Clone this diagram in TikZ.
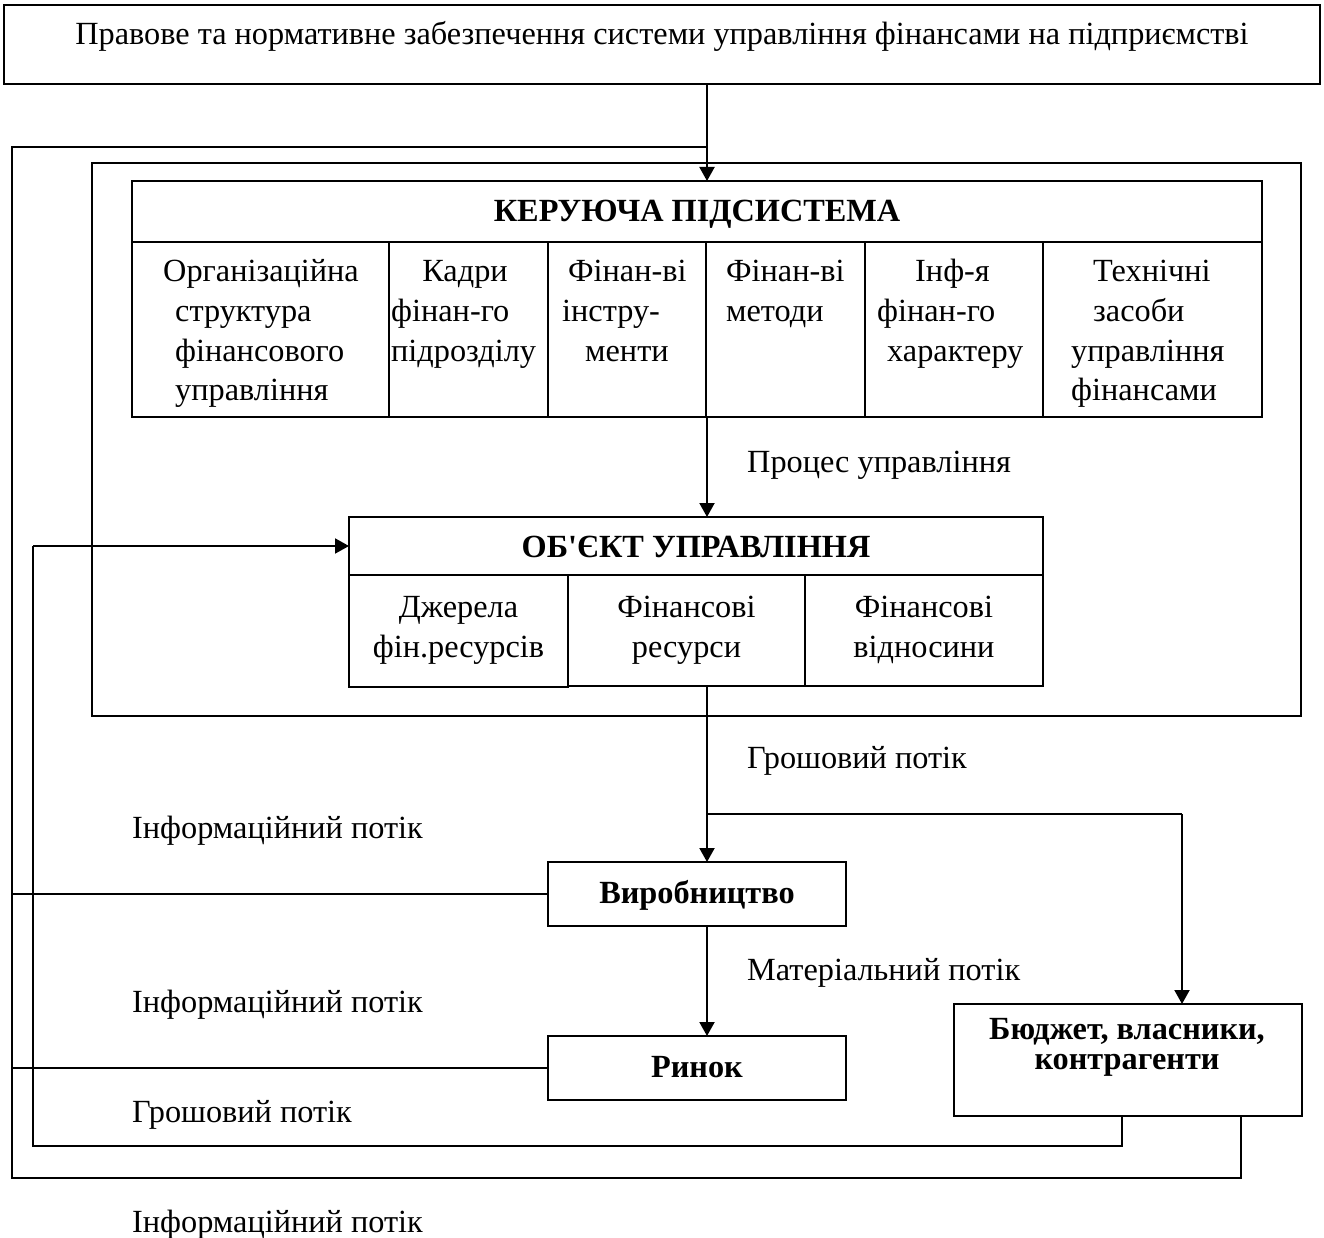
\documentclass[tikz,border=0pt]{standalone}
\usepackage{fontspec}
\setmainfont{Liberation Serif}
\newfontfamily\straightserif{Liberation Serif}
\usetikzlibrary{arrows.meta}
\begin{document}
\begin{tikzpicture}[x=1pt,y=-1pt,
  box/.style={draw,line width=1.8pt,inner sep=0pt,outer sep=0pt,anchor=north west},
  frame/.style={draw,line width=1.3pt,inner sep=0pt,outer sep=0pt,anchor=north west},
  thinline/.style={line width=1.4pt},
  arr/.style={line width=2pt,-{Triangle[length=14pt,width=15pt]}},
  plain/.style={line width=2pt},
  txt/.style={font=\fontsize{32.3}{38}\selectfont,inner sep=0pt,anchor=base west},
  ctxt/.style={font=\fontsize{32.3}{38}\selectfont,inner sep=0pt,anchor=base},
  btxt/.style={font=\fontsize{32.3}{38}\selectfont\bfseries,inner sep=0pt,anchor=base}]
\useasboundingbox (0,0) rectangle (1324,1238);

% boxes
\node[box,minimum width=1316pt,minimum height=79pt] (top) at (4,5) {};
\node[frame,minimum width=1209pt,minimum height=553pt] (frm) at (92,163) {};
\node[box,minimum width=1130pt,minimum height=61pt] (kerhead) at (132,181) {};
\node[box,minimum width=257pt,minimum height=175pt] (k1) at (132,242) {};
\node[box,minimum width=159pt,minimum height=175pt] (k2) at (389,242) {};
\node[box,minimum width=158pt,minimum height=175pt] (k3) at (548,242) {};
\node[box,minimum width=159pt,minimum height=175pt] (k4) at (706,242) {};
\node[box,minimum width=178pt,minimum height=175pt] (k5) at (865,242) {};
\node[box,minimum width=219pt,minimum height=175pt] (k6) at (1043,242) {};
\node[box,minimum width=694pt,minimum height=58pt] (objhead) at (349,517) {};
\node[box,minimum width=219pt,minimum height=112pt] (o1) at (349,575) {};
\node[box,minimum width=237pt,minimum height=111pt] (o2) at (568,575) {};
\node[box,minimum width=238pt,minimum height=111pt] (o3) at (805,575) {};
\node[box,minimum width=298pt,minimum height=64pt] (vyr) at (548,862) {};
\node[box,minimum width=298pt,minimum height=64pt] (rynok) at (548,1036) {};
\node[box,minimum width=348pt,minimum height=112pt] (budget) at (954,1004) {};

% texts
\node[ctxt] (ttop) at (662,45) {Правове та нормативне забезпечення системи управління фінансами на підприємстві};
\node[btxt] (tker) at (697,222) {КЕРУЮЧА ПІДСИСТЕМА};
\node[txt] (k1a) at (163,282) {Організаційна};
\node[txt] (k1b) at (175,321.5) {структура};
\node[txt] (k1c) at (175,361) {фінансового};
\node[txt] (k1d) at (175,400) {управління};
\node[ctxt] (k2a) at (465,282) {Кадри};
\node[txt] (k2b) at (391,321.5) {фінан-го};
\node[txt] (k2c) at (391,361) {підрозділу};
\node[txt] (k3a) at (568,282) {Фінан-ві};
\node[txt] (k3b) at (562,321.5) {інстру-};
\node[txt] (k3c) at (585,361) {менти};
\node[txt] (k4a) at (726,282) {Фінан-ві};
\node[txt] (k4b) at (726,321.5) {методи};
\node[txt] (k5a) at (915,282) {Інф-я};
\node[txt] (k5b) at (877,321.5) {фінан-го};
\node[txt] (k5c) at (887,361) {характеру};
\node[txt] (k6a) at (1093,282) {Технічні};
\node[txt] (k6b) at (1093,321.5) {засоби};
\node[txt] (k6c) at (1071,361) {управління};
\node[txt] (k6d) at (1071,400) {фінансами};
\node[txt] (lproc) at (747,472) {Процес управління};
\node[btxt] (tobj) at (696,557) {ОБ{\straightserif\bfseries '}ЄКТ УПРАВЛІННЯ};
\node[ctxt] (o1a) at (458.5,617) {Джерела};
\node[ctxt] (o1b) at (458.5,657) {фін.ресурсів};
\node[ctxt] (o2a) at (686.5,617) {Фінансові};
\node[ctxt] (o2b) at (686.5,657) {ресурси};
\node[ctxt] (o3a) at (924,617) {Фінансові};
\node[ctxt] (o3b) at (924,657) {відносини};
\node[txt] (lgr1) at (747,768) {Грошовий потік};
\node[txt] (linf1) at (132,838) {Інформаційний потік};
\node[btxt] (tvyr) at (697,903) {Виробництво};
\node[txt] (lmat) at (747,980) {Матеріальний потік};
\node[txt] (linf2) at (132,1012) {Інформаційний потік};
\node[btxt] (tryn) at (697,1077) {Ринок};
\node[font=\fontsize{32.3}{29.5}\selectfont\bfseries,inner sep=0pt,align=center,anchor=north] (tbud) at (1127,1018.5) {Бюджет, власники,\\контрагенти};
\node[txt] (lgr2) at (132,1122) {Грошовий потік};
\node[txt] (linf3) at (132,1232) {Інформаційний потік};

% helper coordinates
\coordinate (vx) at (707,0);
\coordinate (L1) at (12,147);
\coordinate (L2) at (33,546);
\coordinate (b1) at (1122,1146);
\coordinate (b2) at (1241,1178);
\coordinate (br) at (1182,814);

% connectors
\draw[arr] (vx |- top.south) -- (vx |- kerhead.north);
\draw[thinline] (budget.south -| b2) -- (b2) -- (b2 -| L1) -- (L1) -- (L1 -| vx);
\draw[thinline] (budget.south -| b1) -- (b1) -- (b1 -| L2) -- (L2);
\draw[arr] (L2) -- (objhead.west |- L2);
\draw[thinline] (vyr.west) -- (vyr.west -| L1);
\draw[thinline] (rynok.west) -- (rynok.west -| L1);
\draw[arr] (vx |- k4.south) -- (vx |- objhead.north);
\draw[arr] (vx |- o2.south) -- (vx |- vyr.north);
\draw[plain] (vx |- br) -- (br);
\draw[arr] (br) -- (br |- budget.north);
\draw[arr] (vx |- vyr.south) -- (vx |- rynok.north);
\end{tikzpicture}
\end{document}
